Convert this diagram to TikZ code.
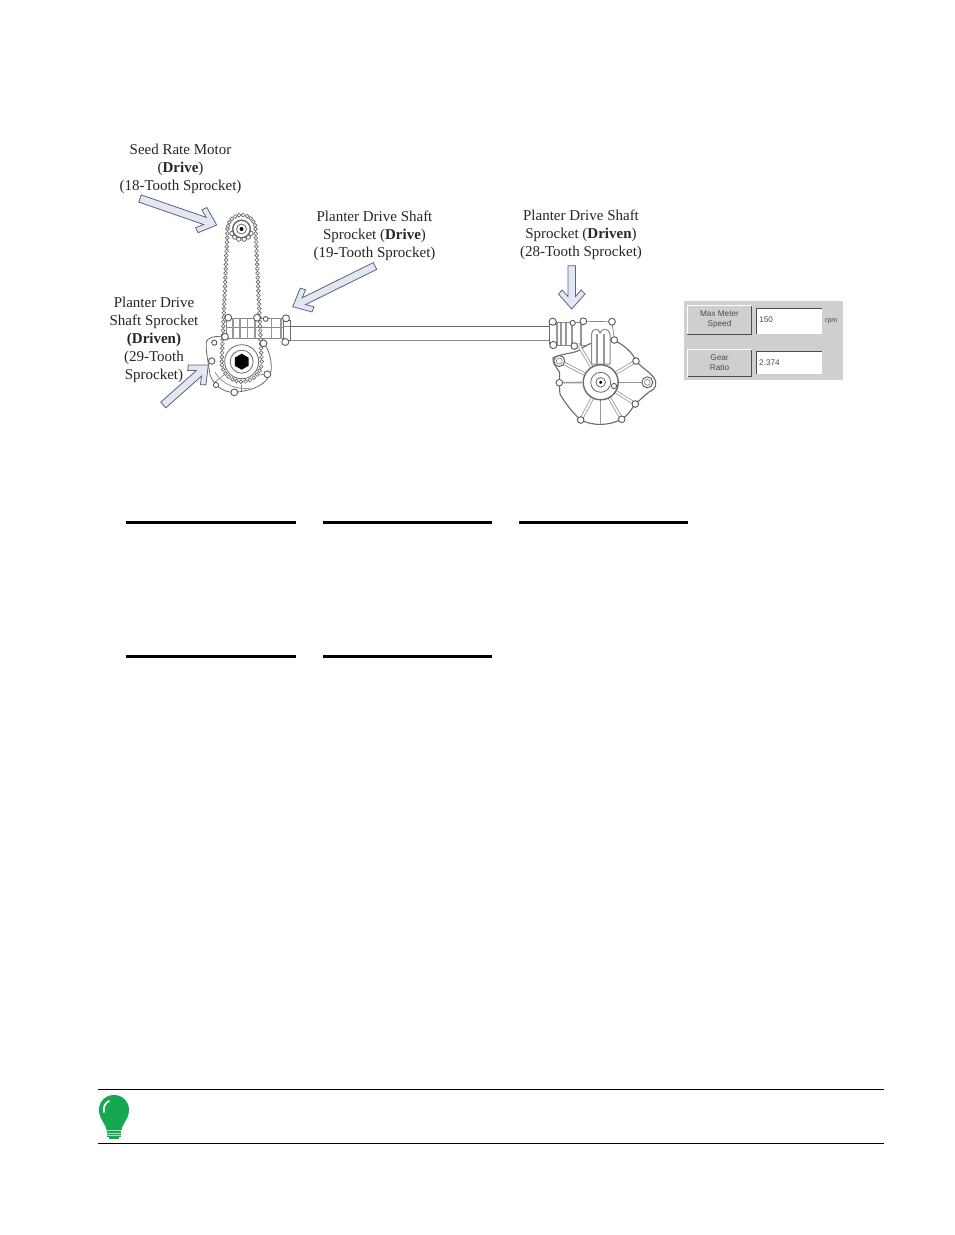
\documentclass[tikz,border=0pt]{standalone}
\usepackage{fontspec}
\setmainfont{Liberation Serif}
\setsansfont{Liberation Sans}
\usetikzlibrary{calc}
\definecolor{arrowfill}{HTML}{E2E8F3}
\definecolor{arrowline}{HTML}{5F6570}
\definecolor{mech}{HTML}{6A6A6A}
\definecolor{panelgray}{HTML}{CFCFCF}
\definecolor{bulb}{HTML}{16A850}
\definecolor{bulblight}{HTML}{A8E0BC}
\tikzset{
  lbl/.style={font=\fontsize{15}{18}\selectfont,align=center,text=black!85,inner sep=0pt},
  blockarrow/.style={draw=arrowline,fill=arrowfill,line width=0.8pt,line join=miter},
  mechline/.style={draw=mech,line width=0.8pt},
  mechthin/.style={draw=mech!80,line width=0.7pt},
  mechthick/.style={draw=mech!70,line width=1.2pt},
  boltcircle/.style={draw=black!65,fill=white,line width=0.9pt},
  spoke/.style={draw=mech!70,line width=0.8pt,double=white,double distance=1.8pt},
  bead/.style={draw=black!60,fill=white,line width=0.65pt},
  rulethick/.style={draw=black,line width=3pt},
  rulethin/.style={draw=black,line width=1pt},
  uibutton/.style={fill=panelgray,draw=none},
  uitext/.style={font=\sffamily\fontsize{8.2}{10}\selectfont,text=black!70,align=center,inner sep=0pt},
}
\newcommand\blockarr[2]{%
  \coordinate (s) at (#1);\coordinate (e) at (#2);
  \coordinate (n) at ($(e)!12.5pt!(s)$);
  \coordinate (c) at ($(e)!15pt!(s)$);
  \coordinate (d) at ($(e)!19pt!(s)$);
  \draw[blockarrow] ($(s)!3.8pt!90:(e)$) -- ($(n)!3.8pt!-90:(s)$)
    -- ($(d)!9.5pt!90:(e)$) -- ($(c)!13.3pt!90:(e)$) -- (e)
    -- ($(c)!13.3pt!-90:(e)$) -- ($(d)!9.5pt!-90:(e)$)
    -- ($(n)!3.8pt!90:(s)$) -- ($(s)!3.8pt!-90:(e)$) -- cycle;
}
\newcommand\boltc[3]{\draw[boltcircle] (#1,#2) circle (#3);}
\begin{document}
\begin{tikzpicture}[x=1pt,y=-1pt]
\useasboundingbox (0,0) rectangle (954,1235);
\fill[white] (0,0) rectangle (954,1235);

% ---- labels
\node[lbl] (lblMotor) at (180.5,169) {Seed Rate Motor\\(\textbf{Drive})\\(18-Tooth Sprocket)};
\node[lbl] (lblDrive) at (374.5,236) {Planter Drive Shaft\\Sprocket (\textbf{Drive})\\(19-Tooth Sprocket)};
\node[lbl] (lblDriven) at (581,235) {Planter Drive Shaft\\Sprocket (\textbf{Driven})\\(28-Tooth Sprocket)};
\node[lbl] (lblLeft) at (154,340) {Planter Drive\\Shaft Sprocket\\\textbf{(Driven)}\\(29-Tooth\\Sprocket)};

% ---- shaft
\draw[mechline] (290,326.3) -- (549,326.3);
\draw[mechthin] (290,340.7) -- (549,340.7);

% ---- left housing
\draw[mechline,fill=white] (206.5,341) .. controls (210,336) and (220,335) .. (228,339)
  .. controls (245,333) and (255,335) .. (264,343)
  .. controls (270,352) and (272,362) .. (271,372)
  .. controls (266,385) and (255,390) .. (234,392.5)
  .. controls (222,392) and (214,385) .. (210,375)
  .. controls (209,365) and (205,350) .. (206.5,341) -- cycle;
\draw[mechthin] (215,372) .. controls (222,386) and (240,390) .. (250,388);
\draw[mechthin] (241.7,385) -- (241.7,391);
\draw[mechthin] (224,375) -- (215,382);
\draw[mechthin] (259,375) -- (267,374);

% ---- left tube
\draw[mechthin,fill=white] (226,318) rectangle (283,338.5);
\draw[mechthin] (226,327.7) -- (290,327.7) (226,318) -- (226,338.5);
\foreach \x in {233,240,247.7,255,271.7,281}{\draw[mechthick] (\x,318) -- (\x,338.5);}
\draw[mechline,fill=white] (283,320) rectangle (290,340);
\draw[mechthin] (283,326.3) -- (290,326.3);
\boltc{286}{318.3}{3.5}\boltc{285.3}{342}{3.5}\boltc{265.7}{319}{2.4}

% ---- hub
\fill[white] (241.7,361.7) circle (19);
\draw[mechline] (241.7,361.7) circle (17);
\draw[mechline] (241.7,361.7) circle (11.5);
\fill[black] (241.7,369.7) -- (248.6,365.7) -- (248.6,357.7) -- (241.7,353.7) -- (234.8,357.7) -- (234.8,365.7) -- cycle;

% ---- top sprocket
\fill[white] (241.5,229) circle (14);
\foreach \a in {205,230,255,285,310,335}{
  \draw[mechline,fill=white] ({241.5+10.5*cos(\a)},{229-10.5*sin(\a)}) circle (2.2);}
\draw[mech,line width=1.4pt,fill=white] (241.5,229) circle (8.8);
\draw[mechline] (241.5,229) circle (5);
\fill[black] (241.5,229) circle (2);

% ---- chain
\foreach \t in {0,0.0333,...,1.001}{
  \path (227.5,229) -- (221.7,361.7) coordinate[pos=\t] (cl);
  \draw[bead] (cl) circle (1.9);
  \path (255.5,229) -- (261.7,361.7) coordinate[pos=\t] (cr);
  \draw[bead] (cr) circle (1.9);
}
\foreach \a in {15,32,...,175}{
  \draw[bead] ({241.5+14*cos(\a)},{229-14*sin(\a)}) circle (1.9);}
\foreach \a in {190,203,...,350}{
  \draw[bead] ({241.7+20*cos(\a)},{361.7-20*sin(\a)}) circle (1.9);}

% ---- bolts on the left housing
\boltc{228.3}{317.7}{3.4}\boltc{257}{317.7}{3.4}\boltc{225}{336.7}{3.4}
\boltc{263.5}{343.3}{3.4}\boltc{211.7}{361}{3.2}\boltc{234.3}{392.3}{3.4}
\boltc{267.3}{374.3}{3.4}\boltc{214.3}{342.7}{2.6}\boltc{216}{385}{2.6}

% ---- right tube and housing
\draw[mechline,fill=white] (549,324) rectangle (557,343);
\foreach \x in {557,561,566,572,581}{\draw[mechthick] (\x,322) -- (\x,345);}
\draw[mechthin] (553,322) -- (583,322) (553,345) -- (590,345);
\draw[mechthin] (583.3,321.3) -- (612,321.7) -- (614.3,340);
\draw[mech,line width=1.1pt,fill=white] (553,358) .. controls (562,353) and (575,354) .. (581,349)
  .. controls (590,342) and (605,338) .. (614.3,340)
  .. controls (625,346) and (633,353) .. (636,361)
  .. controls (642,368) and (650,372) .. (654,378)
  .. controls (658,384) and (655,390) .. (649,392)
  .. controls (644,396) and (640,400) .. (635.3,404)
  .. controls (631,410) and (628,415) .. (621.7,419.3)
  .. controls (608,426) and (593,426) .. (580.7,420)
  .. controls (572,412) and (565,403) .. (560,394)
  .. controls (559,386) and (560,378) .. (559.5,372)
  .. controls (556,367) and (552,362) .. (553,358) -- cycle;
\foreach \p in {(559.3,361),(580.7,420),(621.7,419.3),(635.3,404),(636,361),(578,344)}{
  \draw[spoke] (600.7,382.3) -- \p;}
\draw[mech!70,line width=1.6pt] (619,382.3) -- (647,382.3);
\draw[mech!70,line width=1.6pt] (559.3,382.7) -- (582,382.5);
\draw[mech!70,line width=1.3pt] (600.7,400) -- (600.7,424);
\draw[mech!80,line width=1pt,fill=white] (591.5,364) -- (591.5,334)
  .. controls (592,328) and (599,328) .. (600,333)
  .. controls (601,328) and (609,328) .. (610,334) -- (610,364) -- cycle;
\draw[mech!70,line width=1.2pt] (597,334) -- (597,364) (604,334) -- (604,364);
\draw[mech,line width=1.4pt,fill=white] (600.7,382.3) circle (17.5);
\draw[mechline] (600.7,382.3) circle (10);
\draw[mechline] (600.7,382.3) circle (4.8);
\fill[black] (600.7,382.3) circle (1.7);
\boltc{614}{386}{2.6}
\draw[boltcircle] (559.3,361) circle (5.5);
\draw[mechthin] (559.3,361) circle (3);
\draw[boltcircle] (647.3,382.3) circle (5.5);
\draw[mechthin] (647.3,382.3) circle (3);
\boltc{552.7}{321.7}{3.6}\boltc{553.3}{345}{3.6}\boltc{572.7}{323}{2.6}
\boltc{574.3}{346}{3.3}\boltc{583.3}{321.3}{3.4}\boltc{612}{321.7}{3.4}
\boltc{614.3}{340}{3.3}\boltc{559.3}{382.7}{3.3}\boltc{580.7}{420}{3.3}
\boltc{621.7}{419.3}{3.3}\boltc{635.3}{404}{3.3}\boltc{636}{361}{3.3}

% ---- block arrows
\blockarr{140,198.5}{216.7,225}
\blockarr{375,266}{292.7,306.7}
\blockarr{571.7,265.7}{571.7,309}
\blockarr{163.3,405}{208.3,365}

% ---- settings panel
\fill[panelgray] (684,301) rectangle (843,380);
\fill[uibutton] (687.3,305) rectangle (751.7,334.3);
\draw[black!70,line width=0.9pt] (687.3,334.3) -- (751.7,334.3) -- (751.7,305);
\draw[white,line width=0.9pt] (687.3,334.3) -- (687.3,305) -- (751.7,305);
\fill[uibutton] (687.3,349) rectangle (751.7,376.7);
\draw[black!70,line width=0.9pt] (687.3,376.7) -- (751.7,376.7) -- (751.7,349);
\draw[white,line width=0.9pt] (687.3,376.7) -- (687.3,349) -- (751.7,349);
\fill[white] (756.7,308.3) rectangle (821.7,334.3);
\draw[black!70,line width=0.9pt] (756.7,334.3) -- (756.7,308.3) -- (821.7,308.3);
\fill[white] (756.7,351.7) rectangle (821.7,374.3);
\draw[black!70,line width=0.9pt] (756.7,374.3) -- (756.7,351.7) -- (821.7,351.7);
\node[uitext] (btnA) at (719.5,320) {Max Meter\\Speed};
\node[uitext] (btnB) at (719.5,362.5) {Gear\\Ratio};
\node[uitext,anchor=west] (valA) at (759,320) {150};
\node[uitext,anchor=west] (valB) at (759,363) {2.374};
\node[uitext,anchor=west,font=\sffamily\fontsize{7}{8}\selectfont] (unitA) at (825,321.5) {rpm};

% ---- blank-field rules
\draw[rulethick] (126,522.3) -- (296,522.3);
\draw[rulethick] (323,522.3) -- (491.5,522.3);
\draw[rulethick] (519,522.3) -- (687.5,522.3);
\draw[rulethick] (126,656) -- (296,656);
\draw[rulethick] (323,656) -- (491.5,656);

% ---- note band
\draw[rulethin] (98,1089.5) -- (884,1089.5);
\draw[rulethin] (98,1143.5) -- (884,1143.5);
\fill[bulb] (107,1131) .. controls (106,1124) and (99,1119) .. (99,1110)
  .. controls (99,1101) and (106,1095) .. (114,1095)
  .. controls (122,1095) and (129,1101) .. (129,1110)
  .. controls (129,1119) and (122,1124) .. (121,1131) -- cycle;
\fill[bulb] (107,1131) rectangle (121,1137);
\fill[bulb] (109,1137) rectangle (119,1138.5);
\draw[bulblight,line width=0.9pt] (107,1130.5) -- (121,1130.5) (107,1133) -- (121,1133) (107,1135.5) -- (121,1135.5);
\draw[white,line width=1.8pt,line cap=round] (104,1112) .. controls (103,1107) and (105,1103) .. (109,1101);
\end{tikzpicture}
\end{document}
